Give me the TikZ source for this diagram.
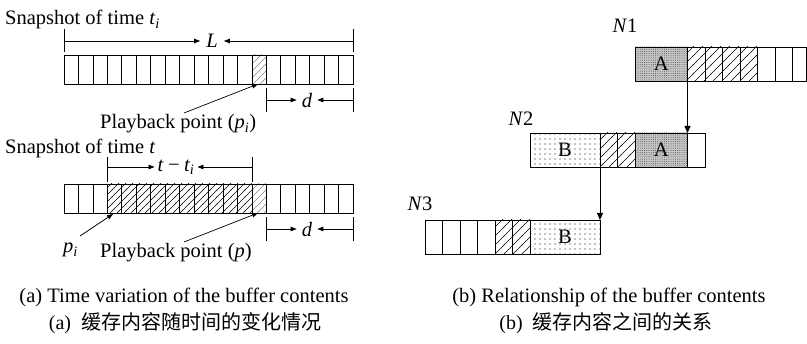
\documentclass[tikz,border=0pt]{standalone}
\usepackage{fontspec}
\setmainfont{Liberation Serif}
\newfontfamily\cjk{Noto Sans CJK SC}
\usetikzlibrary{patterns.meta,arrows.meta}
\tikzdeclarepattern{name=hatchL,type=uncolored,bottom left={(-.5pt,-.5pt)},top right={(7.5pt,7.5pt)},tile size={(7pt,7pt)},code={\draw[line width=0.6pt] (-.5pt,-.5pt) -- (7.5pt,7.5pt);}}
\tikzdeclarepattern{name=hatchR,type=uncolored,bottom left={(-.5pt,-.5pt)},top right={(9.5pt,9.5pt)},tile size={(9pt,9pt)},code={\draw[line width=0.6pt] (-.5pt,-.5pt) -- (9.5pt,9.5pt);}}
\tikzdeclarepattern{name=dotsA,type=uncolored,bottom left={(-.6pt,-.6pt)},top right={(.6pt,.6pt)},tile size={(2.2pt,2.2pt)},code={\fill (0pt,0pt) circle[radius=0.5pt];}}
\tikzdeclarepattern{name=dotsB,type=uncolored,bottom left={(-.8pt,-.8pt)},top right={(.8pt,.8pt)},tile size={(5pt,5pt)},code={\fill (0pt,0pt) circle[radius=0.65pt];}}
\tikzset{
  cellline/.style={line width=0.7pt},
  dimline/.style={line width=0.7pt},
  dimarrow/.style={line width=0.7pt,-{Triangle[length=6pt,width=4.5pt]}},
  downarrow/.style={line width=0.8pt,-{Triangle[length=7pt,width=6pt]}},
  lbl/.style={font=\fontsize{20.5}{24}\selectfont,inner sep=0pt},
  dimlbl/.style={font=\fontsize{20.5}{24}\selectfont\itshape,inner ysep=0pt,inner xsep=6pt},
  capcjk/.style={font=\fontsize{20}{24}\selectfont,inner sep=0pt},
  hatchl/.style={pattern=hatchL,pattern color=black},
  hatchlg/.style={pattern=hatchL,pattern color=black!45},
  hatchr/.style={pattern=hatchR,pattern color=black},
  blockA/.style={fill=black!22,postaction={pattern=dotsA,pattern color=black!70}},
  blockB/.style={pattern=dotsB,pattern color=black},
}
\begin{document}
\begin{tikzpicture}[x=1pt,y=-1pt]
\useasboundingbox (0,0) rectangle (807,344);
\fill[white] (0,0) rectangle (807,344);
% ---------- left: snapshot t_i ----------
\node[lbl,anchor=base west] (snap1) at (5,25) {Snapshot of time \textit{t}\textsubscript{\textit{i}}};
\path[hatchlg] (251.85,55) rectangle (266.3,84);
\foreach \i in {0,...,19}{\draw[cellline] (64+\i*14.45,55) rectangle ++(14.45,29);}
\coordinate (Lt1) at (64,29); \coordinate (Lb1) at (64,52);
\coordinate (Lt2) at (353,29); \coordinate (Lb2) at (353,52);
\draw[dimline] (Lt1) -- (Lb1); \draw[dimline] (Lt2) -- (Lb2);
\node[dimlbl] (L) at (212,41) {L};
\draw[dimarrow] (64,41) -- (L.west);
\draw[dimarrow] (353,41) -- (L.east);
\coordinate (dt1) at (266.3,88); \coordinate (db1) at (266.3,112);
\coordinate (dt2) at (353,88); \coordinate (db2) at (353,112);
\draw[dimline] (dt1) -- (db1); \draw[dimline] (dt2) -- (db2);
\node[dimlbl,inner xsep=5pt] (d1) at (307,100) {d};
\draw[dimarrow] (266.3,100) -- (d1.west);
\draw[dimarrow] (353,100) -- (d1.east);
\node[lbl,anchor=base west] (pb1) at (100,129) {Playback point (\textit{p}\textsubscript{\textit{i}})};
\coordinate (pb1tail) at (184,113);
\coordinate (cell1) at (258,84);
\draw[dimarrow] (pb1tail) -- (cell1);
% ---------- left: snapshot t ----------
\node[lbl,anchor=base west] (snap2) at (5,154) {Snapshot of time \textit{t}};
\path[hatchl] (107.35,184) rectangle (251.85,213);
\path[hatchlg] (251.85,184) rectangle (266.3,213);
\foreach \i in {0,...,19}{\draw[cellline] (64+\i*14.45,184) rectangle ++(14.45,29);}
\coordinate (tt1) at (107.35,157); \coordinate (tb1) at (107.35,182);
\coordinate (tt2) at (251.85,157); \coordinate (tb2) at (251.85,182);
\draw[dimline] (tt1) -- (tb1); \draw[dimline] (tt2) -- (tb2);
\node[dimlbl,inner xsep=3pt] (tdiff) at (176,167) {t\,−\,t\textsubscript{i}};
\draw[dimarrow] (107.35,167) -- (tdiff.west);
\draw[dimarrow] (251.85,167) -- (tdiff.east);
\coordinate (dt3) at (266.3,217); \coordinate (db3) at (266.3,241);
\coordinate (dt4) at (353,217); \coordinate (db4) at (353,241);
\draw[dimline] (dt3) -- (db3); \draw[dimline] (dt4) -- (db4);
\node[dimlbl,inner xsep=5pt] (d2) at (307,229) {d};
\draw[dimarrow] (266.3,229) -- (d2.west);
\draw[dimarrow] (353,229) -- (d2.east);
\node[lbl,anchor=base west] (pi) at (63,253) {\textit{p}\textsubscript{\textit{i}}};
\coordinate (pitail) at (80,236);
\coordinate (cell2) at (113,214);
\draw[dimarrow] (pitail) -- (cell2);
\node[lbl,anchor=base west] (pb2) at (100,258) {Playback point (\textit{p})};
\coordinate (pb2tail) at (184,242);
\coordinate (cell3) at (258,213);
\draw[dimarrow] (pb2tail) -- (cell3);
% ---------- right ----------
\node[lbl] (N1) at (625,26) {\textit{N}1};
\path[blockA] (635,47) rectangle (687.5,81);
\path[hatchr] (687.5,47) rectangle (757.5,81);
\draw[cellline] (635,47) rectangle (806.6,81);
\foreach \x in {687.5,705,722.5,740,757.5,775,792.5}{\draw[cellline] (\x,47) -- (\x,81);}
\node[lbl] (A1) at (661.25,64) {A};
\node[lbl] (N2) at (521,119) {\textit{N}2};
\path[blockB] (530,133) rectangle (600,167);
\path[hatchr] (600,133) rectangle (635,167);
\path[blockA] (635,133) rectangle (687.5,167);
\draw[cellline] (530,133) rectangle (705,167);
\foreach \x in {600,617.5,635,687.5}{\draw[cellline] (\x,133) -- (\x,167);}
\node[lbl] (B2) at (565,150) {B};
\node[lbl] (A2) at (661.25,150) {A};
\node[lbl] (N3) at (420,204) {\textit{N}3};
\path[hatchr] (495,220) rectangle (530,254);
\path[blockB] (530,220) rectangle (600,254);
\draw[cellline] (425,220) rectangle (600,254);
\foreach \x in {442.5,460,477.5,495,512.5,530}{\draw[cellline] (\x,220) -- (\x,254);}
\node[lbl] (B3) at (565,237) {B};
\coordinate (arr1s) at (687.5,81); \coordinate (arr1e) at (687.5,133);
\coordinate (arr2s) at (600,167); \coordinate (arr2e) at (600,220);
\draw[downarrow] (arr1s) -- (arr1e);
\draw[downarrow] (arr2s) -- (arr2e);
% ---------- captions ----------
\node[lbl] (capa) at (184,297) {(a) Time variation of the buffer contents};
\node[capcjk] (capacn) at (185,323) {(a)\hspace{0.5em}{\cjk 缓存内容随时间的变化情况}};
\node[lbl] (capb) at (609,297) {(b) Relationship of the buffer contents};
\node[capcjk] (capbcn) at (606,323) {(b)\hspace{0.5em}{\cjk 缓存内容之间的关系}};
\end{tikzpicture}
\end{document}
